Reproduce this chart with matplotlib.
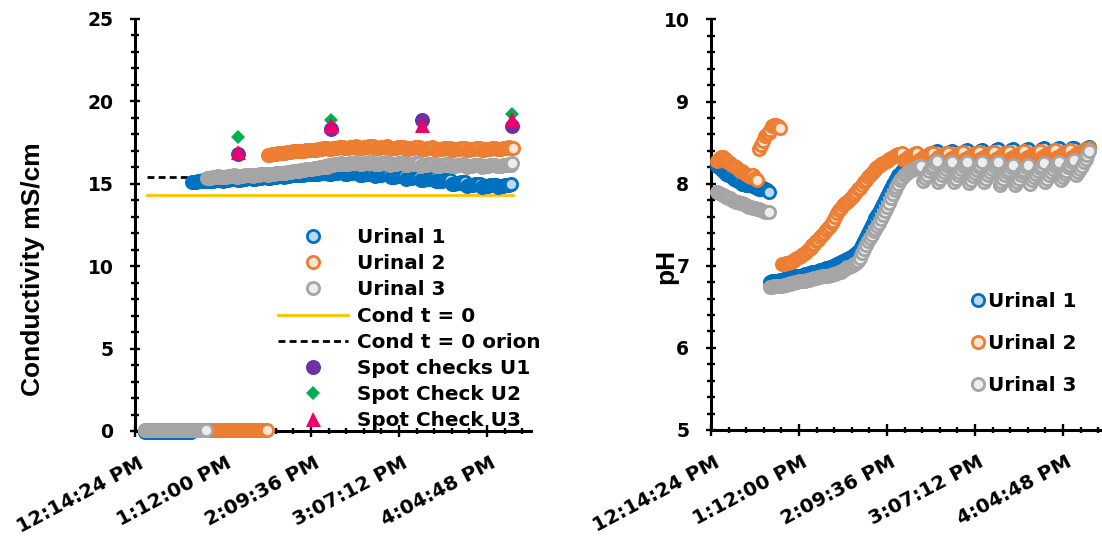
import numpy as np
import matplotlib
matplotlib.use("Agg")
import matplotlib.pyplot as plt
from matplotlib.ticker import FixedLocator, FuncFormatter
from matplotlib.lines import Line2D
from matplotlib.transforms import ScaledTranslation

# ---------------- data ----------------
STEP = 1.25 / 1440.0          # logging interval (days)

# Conductivity (mS/cm) - left chart
cond_zero_start = 0.5145
u1_cond_zero = [-0.05, -0.05, -0.05, -0.05, -0.05, -0.05, -0.05, -0.05, -0.05, -0.05, -0.05,
                -0.05, -0.05, -0.05, -0.05, -0.05, -0.05, -0.05, -0.05, -0.05, -0.05, -0.05,
                -0.05, -0.05, -0.05]
u3_cond_zero = [0.05, 0.05, 0.05, 0.05, 0.05, 0.05, 0.05, 0.05, 0.05, 0.05, 0.05, 0.05, 0.05,
                0.05, 0.05, 0.05, 0.05, 0.05, 0.05, 0.05, 0.05, 0.05, 0.05, 0.05, 0.05, 0.05,
                0.05, 0.05, 0.05, 0.05, 0.05, 0.05, 0.05]
u2_cond_zero = [0.05, 0.05, 0.05, 0.05, 0.05, 0.05, 0.05, 0.05, 0.05, 0.05, 0.05, 0.05, 0.05,
                0.05, 0.05, 0.05, 0.05, 0.05, 0.05, 0.05, 0.05, 0.05, 0.05, 0.05, 0.05, 0.05,
                0.05, 0.05, 0.05, 0.05, 0.05, 0.05, 0.05, 0.05, 0.05, 0.05, 0.05, 0.05, 0.05,
                0.05, 0.05, 0.05, 0.05, 0.05, 0.05, 0.05, 0.05, 0.05, 0.05, 0.05, 0.05, 0.05,
                0.05, 0.05, 0.05, 0.05, 0.05, 0.05, 0.05, 0.05, 0.05, 0.05, 0.05, 0.05, 0.05]

u1_cond_start = 0.5359
u1_cond = [15.09, 15.11, 15.13, 15.15, 15.17, 15.19, 15.21, 15.19,
           15.14, 15.16, 15.18, 15.2, 15.22, 15.24, 15.26, 15.24,
           15.19, 15.21, 15.23, 15.25, 15.27, 15.29, 15.31, 15.29,
           15.24, 15.26, 15.28, 15.3, 15.32, 15.34, 15.36, 15.34,
           15.29, 15.31, 15.33, 15.35, 15.37, 15.39, 15.41, 15.39,
           15.36, 15.38, 15.4, 15.42, 15.44, 15.46, 15.48, 15.46,
           15.44, 15.46, 15.48, 15.5, 15.52, 15.54, 15.56, 15.54,
           15.52, 15.54, 15.56, 15.58, 15.6, 15.62, 15.64, 15.62,
           15.57, 15.59, 15.61, 15.63, 15.65, 15.67, 15.69, 15.67,
           15.6, 15.62, 15.64, 15.66, 15.68, 15.7, 15.72, 15.7,
           15.59, 15.61, 15.63, 15.65, 15.67, 15.69, 15.71, 15.69,
           15.54, 15.56, 15.58, 15.6, 15.62, 15.64, 15.66, 15.64,
           15.49, 15.51, 15.53, 15.55, 15.57, 15.59, 15.61, 15.59,
           15.39, 15.41, 15.43, 15.45, 15.47, 15.49, 15.51, 15.49,
           15.32, 15.34, 15.36, 15.38, 15.4, 15.42, 15.44, 15.42,
           15.24, 15.26, 15.28, 15.3, 15.32, 15.34, 15.36, 15.34,
           15.14, 15.16, 15.18, 15.2, 15.22, 15.24, 15.26, 15.24,
           14.99, 15.01, 15.03, 15.05, 15.07, 15.09, 15.11, 15.09,
           14.89, 14.91, 14.93, 14.95, 14.97, 14.99, 15.01, 14.99,
           14.82, 14.84, 14.86, 14.88, 14.9, 14.92, 14.94, 14.92,
           14.82, 14.84, 14.86, 14.88, 14.9, 14.92, 14.94, 15.0]

u3_cond_start = 0.5427
u3_cond = [15.34, 15.36, 15.38, 15.4, 15.42, 15.44, 15.46, 15.44,
           15.39, 15.41, 15.43, 15.45, 15.47, 15.49, 15.51, 15.49,
           15.44, 15.46, 15.48, 15.5, 15.52, 15.54, 15.56, 15.54,
           15.49, 15.51, 15.53, 15.55, 15.57, 15.59, 15.61, 15.59,
           15.56, 15.58, 15.6, 15.62, 15.64, 15.66, 15.68, 15.66,
           15.66, 15.68, 15.7, 15.72, 15.74, 15.76, 15.78, 15.76,
           15.79, 15.81, 15.83, 15.85, 15.87, 15.89, 15.91, 15.89,
           15.94, 15.96, 15.98, 16.0, 16.02, 16.04, 16.06, 16.04,
           16.12, 16.14, 16.16, 16.18, 16.2, 16.22, 16.24, 16.22,
           16.18, 16.2, 16.22, 16.24, 16.26, 16.28, 16.3, 16.28,
           16.2, 16.22, 16.24, 16.26, 16.28, 16.3, 16.32, 16.3,
           16.19, 16.21, 16.23, 16.25, 16.27, 16.29, 16.31, 16.29,
           16.16, 16.18, 16.2, 16.22, 16.24, 16.26, 16.28, 16.26,
           16.14, 16.16, 16.18, 16.2, 16.22, 16.24, 16.26, 16.24,
           16.11, 16.13, 16.15, 16.17, 16.19, 16.21, 16.23, 16.21,
           16.08, 16.1, 16.12, 16.14, 16.16, 16.18, 16.2, 16.18,
           16.06, 16.08, 16.1, 16.12, 16.14, 16.16, 16.18, 16.16,
           16.04, 16.06, 16.08, 16.1, 16.12, 16.14, 16.16, 16.14,
           16.04, 16.06, 16.08, 16.1, 16.12, 16.14, 16.16, 16.14,
           16.07, 16.09, 16.11, 16.13, 16.15, 16.17, 16.19, 16.17,
           16.25]

u2_cond_start = 0.5705
u2_cond = [16.74, 16.76, 16.78, 16.8, 16.82, 16.84, 16.86, 16.84,
           16.86, 16.88, 16.9, 16.92, 16.94, 16.96, 16.98, 16.96,
           16.96, 16.98, 17.0, 17.02, 17.04, 17.06, 17.08, 17.06,
           17.06, 17.08, 17.1, 17.12, 17.14, 17.16, 17.18, 17.16,
           17.12, 17.14, 17.16, 17.18, 17.2, 17.22, 17.24, 17.22,
           17.16, 17.18, 17.2, 17.22, 17.24, 17.26, 17.28, 17.26,
           17.17, 17.19, 17.21, 17.23, 17.25, 17.27, 17.29, 17.27,
           17.16, 17.18, 17.2, 17.22, 17.24, 17.26, 17.28, 17.26,
           17.14, 17.16, 17.18, 17.2, 17.22, 17.24, 17.26, 17.24,
           17.12, 17.14, 17.16, 17.18, 17.2, 17.22, 17.24, 17.22,
           17.1, 17.12, 17.14, 17.16, 17.18, 17.2, 17.22, 17.2,
           17.08, 17.1, 17.12, 17.14, 17.16, 17.18, 17.2, 17.18,
           17.06, 17.08, 17.1, 17.12, 17.14, 17.16, 17.18, 17.16,
           17.05, 17.07, 17.09, 17.11, 17.13, 17.15, 17.17, 17.15,
           17.06, 17.08, 17.1, 17.12, 17.14, 17.16, 17.18, 17.16,
           17.09, 17.11, 17.13, 17.15, 17.17, 17.19, 17.21, 17.19,
           17.2]

cond_t0_times = [0.5155, 0.6818]
cond_t0 = [14.35, 14.35]
orion_times = [0.5155, 0.5355]
cond_t0_orion = [15.43, 15.43]

spot_times = [0.5568, 0.5991, 0.6405, 0.6814]
spot_u1 = [16.8, 18.35, 18.85, 18.5]
spot_u2 = [17.85, 18.85, 18.9, 19.25]
spot_u3 = [16.95, 18.55, 18.55, 18.95]

# pH - right chart
ph_start = 0.5127
u1_ph = [8.22, 8.2, 8.18, 8.16, 8.15, 8.12, 8.1, 8.1, 8.08, 8.06, 8.05, 8.03, 8.02, 8.0,
         8.0, 7.99, 7.98, 8.0, 7.98, 7.97, 7.96, 7.95, 7.94, 7.93, 7.95, 7.93, 7.92, 7.9,
         6.8, 6.81, 6.81, 6.82, 6.82, 6.83, 6.83, 6.84,
         6.84, 6.85, 6.85, 6.86, 6.86, 6.87, 6.87, 6.88,
         6.88, 6.89, 6.9, 6.9, 6.91, 6.91, 6.92, 6.93,
         6.93, 6.94, 6.95, 6.95, 6.96, 6.97, 6.97, 6.98,
         6.99, 7.0, 7.01, 7.02, 7.03, 7.05, 7.06, 7.07,
         7.08, 7.1, 7.11, 7.12, 7.13, 7.15, 7.17, 7.2,
         7.25, 7.3, 7.35, 7.4, 7.45, 7.5, 7.54, 7.58,
         7.62, 7.66, 7.7, 7.75, 7.8, 7.85, 7.9, 7.95,
         8.0, 8.03, 8.06, 8.1, 8.12, 8.15, 8.18, 8.2,
         8.22, 8.23, 8.24, 8.26, 8.27, 8.28, 8.29, 8.3,
         8.3, 8.31, 8.33, 8.34, 8.36, 8.37, 8.39, 8.4,
         8.3, 8.31, 8.33, 8.34, 8.36, 8.37, 8.39, 8.4,
         8.31, 8.32, 8.34, 8.35, 8.37, 8.38, 8.4, 8.41,
         8.31, 8.32, 8.34, 8.35, 8.37, 8.38, 8.4, 8.41,
         8.32, 8.33, 8.35, 8.36, 8.38, 8.39, 8.41, 8.42,
         8.32, 8.33, 8.35, 8.36, 8.38, 8.39, 8.41, 8.42,
         8.32, 8.33, 8.35, 8.36, 8.38, 8.39, 8.41, 8.42,
         8.33, 8.34, 8.36, 8.37, 8.39, 8.4, 8.42, 8.43,
         8.33, 8.34, 8.36, 8.37, 8.39, 8.4, 8.42, 8.43,
         8.34, 8.35, 8.37, 8.38, 8.4, 8.41, 8.43, 8.44,
         8.35, 8.36, 8.38, 8.39, 8.41, 8.42, 8.43, 8.45]
u2_ph = [8.28, 8.3, 8.33, 8.32, 8.3, 8.28, 8.26, 8.25, 8.23, 8.22, 8.2, 8.18, 8.16, 8.15,
         8.13, 8.12, 8.1, 8.09, 8.08, 8.1, 8.07, 8.05,
         8.42, 8.47, 8.52, 8.58, 8.6, 8.62, 8.66, 8.7, 8.72, 8.72, 8.7, 8.68,
         7.02, 7.02, 7.03, 7.04, 7.05, 7.05, 7.06, 7.08,
         7.1, 7.11, 7.12, 7.14, 7.16, 7.18, 7.2, 7.22,
         7.25, 7.27, 7.3, 7.32, 7.35, 7.38, 7.4, 7.43,
         7.46, 7.48, 7.52, 7.55, 7.6, 7.64, 7.68, 7.71,
         7.74, 7.76, 7.78, 7.8, 7.83, 7.85, 7.88, 7.9,
         7.93, 7.95, 7.98, 8.02, 8.05, 8.08, 8.1, 8.13,
         8.15, 8.18, 8.2, 8.22, 8.24, 8.25, 8.27, 8.28,
         8.3, 8.31, 8.33, 8.34, 8.35, 8.36, 8.36, 8.37,
         8.29, 8.3, 8.32, 8.33, 8.34, 8.36, 8.37, 8.38,
         8.29, 8.3, 8.32, 8.33, 8.34, 8.36, 8.37, 8.38,
         8.29, 8.3, 8.32, 8.33, 8.34, 8.36, 8.37, 8.38,
         8.3, 8.31, 8.33, 8.34, 8.35, 8.37, 8.38, 8.39,
         8.3, 8.31, 8.33, 8.34, 8.35, 8.37, 8.38, 8.39,
         8.3, 8.31, 8.33, 8.34, 8.35, 8.37, 8.38, 8.39,
         8.3, 8.31, 8.33, 8.34, 8.35, 8.37, 8.38, 8.39,
         8.31, 8.32, 8.34, 8.35, 8.36, 8.38, 8.39, 8.4,
         8.31, 8.32, 8.34, 8.35, 8.36, 8.38, 8.39, 8.4,
         8.32, 8.33, 8.35, 8.36, 8.37, 8.39, 8.4, 8.41,
         8.32, 8.33, 8.35, 8.36, 8.37, 8.39, 8.4, 8.41,
         8.33, 8.34, 8.36, 8.37, 8.38, 8.4, 8.41, 8.42,
         8.42, 8.43]
u3_ph = [7.9, 7.89, 7.88, 7.86, 7.85, 7.84, 7.83, 7.82, 7.8, 7.79, 7.78, 7.78, 7.77, 7.76,
         7.75, 7.74, 7.73, 7.72, 7.72, 7.71, 7.7, 7.69, 7.69, 7.68, 7.67, 7.66, 7.66, 7.65,
         6.74, 6.74, 6.75, 6.75, 6.76, 6.76, 6.76, 6.77,
         6.77, 6.78, 6.78, 6.79, 6.79, 6.8, 6.8, 6.81,
         6.81, 6.82, 6.82, 6.83, 6.83, 6.84, 6.84, 6.85,
         6.85, 6.86, 6.86, 6.87, 6.87, 6.88, 6.88, 6.89,
         6.89, 6.9, 6.9, 6.91, 6.92, 6.93, 6.95, 6.96,
         6.98, 6.99, 7.0, 7.01, 7.02, 7.03, 7.06, 7.1,
         7.15, 7.2, 7.25, 7.3, 7.34, 7.38, 7.42, 7.45,
         7.49, 7.52, 7.57, 7.62, 7.67, 7.72, 7.77, 7.82,
         7.87, 7.92, 7.96, 8.0, 8.04, 8.07, 8.1, 8.12,
         8.14, 8.15, 8.17, 8.18, 8.19, 8.2, 8.21, 8.22,
         8.03, 8.07, 8.11, 8.15, 8.19, 8.22, 8.25, 8.28,
         8.02, 8.06, 8.1, 8.14, 8.18, 8.21, 8.24, 8.27,
         8.02, 8.06, 8.1, 8.14, 8.18, 8.21, 8.24, 8.27,
         8.01, 8.05, 8.09, 8.13, 8.17, 8.2, 8.23, 8.26,
         8.02, 8.06, 8.1, 8.14, 8.18, 8.21, 8.24, 8.27,
         7.98, 8.02, 8.06, 8.1, 8.14, 8.17, 8.2, 8.23,
         7.98, 8.02, 8.06, 8.1, 8.14, 8.17, 8.2, 8.23,
         8.0, 8.04, 8.08, 8.12, 8.16, 8.19, 8.22, 8.25,
         8.02, 8.06, 8.1, 8.14, 8.18, 8.21, 8.24, 8.27,
         8.04, 8.08, 8.12, 8.16, 8.2, 8.23, 8.26, 8.29,
         8.1, 8.14, 8.18, 8.22, 8.26, 8.3, 8.35, 8.4]

x_min, x_max, x_major, x_minor = 0.51, 0.69, 0.04, 0.008

# ---------------- styling ----------------
LAB = dict(family="Liberation Sans", weight="bold", size=19)
U_STYLE = {
    1: dict(mfc="#BDD7EE", mec="#0070C0"),
    2: dict(mfc="#FBE5D6", mec="#ED7D31"),
    3: dict(mfc="#EDEDED", mec="#A5A5A5"),
}
MS = 8.8
MEW = 2.0
LEG_FONT = dict(family="DejaVu Sans", weight="bold", size=14.4)


def times(start, vals):
    return start + STEP * np.arange(len(vals))


def time_fmt(t, pos):
    s = int(round(t * 86400))
    h, m, sec = s // 3600, (s % 3600) // 60, s % 60
    ampm = "PM" if h >= 12 else "AM"
    h12 = h % 12 or 12
    return f"{h12}:{m:02d}:{sec:02d} {ampm}"


def style_axes(ax, ymin, ymax, ymaj, ymin_step):
    ax.set_xlim(x_min, x_max)
    ax.set_ylim(ymin, ymax)
    for s in ("top", "right"):
        ax.spines[s].set_visible(False)
    for s in ("left", "bottom"):
        ax.spines[s].set_linewidth(2.2)
        ax.spines[s].set_color("black")
    ax.xaxis.set_major_locator(FixedLocator(np.arange(x_min, x_max + 1e-9, x_major)))
    ax.xaxis.set_minor_locator(FixedLocator(np.arange(x_min, x_max + 1e-9, x_minor)))
    ax.xaxis.set_major_formatter(FuncFormatter(time_fmt))
    ax.yaxis.set_major_locator(FixedLocator(np.arange(ymin, ymax + 1e-9, ymaj)))
    ax.yaxis.set_minor_locator(FixedLocator(np.arange(ymin, ymax + 1e-9, ymin_step)))
    ax.tick_params(axis="y", which="major", direction="inout", length=7.2, width=1.7,
                   pad=12.0, labelsize=13.5)
    ax.tick_params(axis="y", which="minor", direction="inout", length=5.8, width=1.7)
    ax.tick_params(axis="x", which="major", direction="inout", length=8.6, width=1.7,
                   pad=12.0, labelsize=14.3)
    ax.tick_params(axis="x", which="minor", direction="inout", length=5.0, width=1.7)
    for lab in ax.get_yticklabels():
        lab.set_fontfamily("DejaVu Sans")
        lab.set_fontweight("bold")
    off = ScaledTranslation(2 / 72, 0, ax.figure.dpi_scale_trans)
    for lab in ax.get_xticklabels():
        lab.set_fontfamily("DejaVu Sans")
        lab.set_fontweight("bold")
        lab.set_rotation(28)
        lab.set_ha("right")
        lab.set_va("top")
        lab.set_rotation_mode("anchor")
        lab.set_transform(lab.get_transform() + off)


fig = plt.figure(figsize=(11.02, 5.39), dpi=100)
W, H = 1102, 539
ax1 = fig.add_axes([135 / W, (H - 431) / H, 396 / W, 412 / H])
ax2 = fig.add_axes([711 / W, (H - 430) / H, 396 / W, 410.5 / H])

# ---------------- left: conductivity ----------------
ax1.plot(orion_times, cond_t0_orion, color="black", lw=2, ls=(0, (2.5, 1.5)), zorder=2.6)
ax1.plot(cond_t0_times, cond_t0, color="#FFC000", lw=2, zorder=2.6)

series = [(1, cond_zero_start, u1_cond_zero, u1_cond_start, u1_cond),
          (2, cond_zero_start, u2_cond_zero, u2_cond_start, u2_cond),
          (3, cond_zero_start, u3_cond_zero, u3_cond_start, u3_cond)]
for k, zs, zv, cs, cv in series:
    ax1.plot(times(zs, zv), zv, ls="none", marker="o", ms=MS, mew=MEW, clip_on=False,
             zorder=3, **U_STYLE[k])
    ax1.plot(times(cs, cv), cv, ls="none", marker="o", ms=MS, mew=MEW, clip_on=False,
             zorder=3, **U_STYLE[k])
ax1.plot(spot_times, spot_u2, ls="none", marker="D", ms=7.6, color="#00B050", mew=0,
         zorder=4, clip_on=False)
ax1.plot(spot_times, spot_u1, ls="none", marker="o", ms=10.8, color="#7030A0", mew=0,
         zorder=4, clip_on=False)
ax1.plot(spot_times, spot_u3, ls="none", marker="^", ms=10.8, color="#F0006A", mew=0,
         zorder=4, clip_on=False)

style_axes(ax1, 0, 25, 5, 1)
ax1.set_ylabel("Conductivity mS/cm", fontdict=LAB, va="center", ha="center")
ax1.yaxis.set_label_coords((33 - 135) / 396, (431 - 269) / 412)

h_left = [
    Line2D([], [], ls="none", marker="o", ms=MS, mew=MEW, **U_STYLE[1]),
    Line2D([], [], ls="none", marker="o", ms=MS, mew=MEW, **U_STYLE[2]),
    Line2D([], [], ls="none", marker="o", ms=MS, mew=MEW, **U_STYLE[3]),
    Line2D([], [], color="#FFC000", lw=2),
    Line2D([], [], color="black", lw=2, ls=(0, (2.5, 1.5))),
    Line2D([], [], ls="none", marker="o", ms=10.8, color="#7030A0", mew=0),
    Line2D([], [], ls="none", marker="D", ms=7.6, color="#00B050", mew=0),
    Line2D([], [], ls="none", marker="^", ms=10.8, color="#F0006A", mew=0),
]
l_left = ["Urinal 1", "Urinal 2", "Urinal 3", "Cond t = 0", "Cond t = 0 orion",
          "Spot checks U1", "Spot Check U2", "Spot Check U3"]
ax1.legend(h_left, l_left, loc="upper left", bbox_to_anchor=(278 / W, 1 - 228 / H),
           bbox_transform=fig.transFigure, frameon=False, prop=LEG_FONT,
           handlelength=3.5, handletextpad=0.45, labelspacing=0.36, borderpad=0,
           borderaxespad=0, numpoints=1)

# ---------------- right: pH ----------------
for k, vals in ((1, u1_ph), (2, u2_ph), (3, u3_ph)):
    ax2.plot(times(ph_start, vals), vals, ls="none", marker="o", ms=MS, mew=MEW,
             clip_on=False, zorder=3, **U_STYLE[k])

style_axes(ax2, 5, 10, 1, 0.2)
ax2.set_ylabel("pH", fontdict=LAB, va="center", ha="center")
ax2.yaxis.set_label_coords((666 - 711) / 396, (430 - 266) / 410.5)

h_right = [Line2D([], [], ls="none", marker="o", ms=MS, mew=MEW, **U_STYLE[k]) for k in (1, 2, 3)]
ax2.legend(h_right, ["Urinal 1", "Urinal 2", "Urinal 3"], loc="upper left",
           bbox_to_anchor=(971 / W, 1 - 292 / H), bbox_transform=fig.transFigure,
           frameon=False, prop=LEG_FONT,
           handlelength=0.7, handletextpad=0.15, labelspacing=1.16, borderpad=0,
           borderaxespad=0, numpoints=1)

fig.savefig("out.png", dpi=100)
